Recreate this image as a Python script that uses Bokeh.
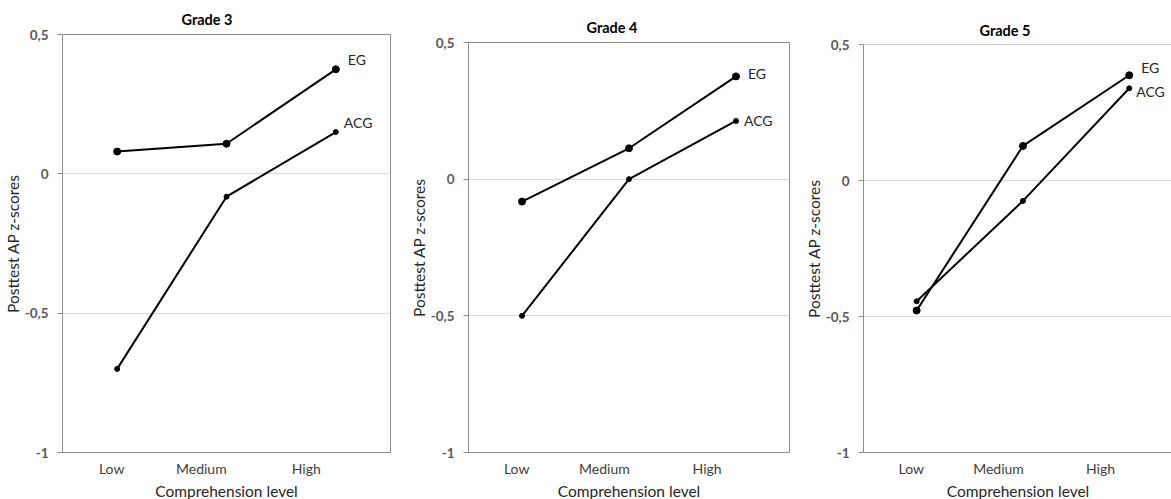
import numpy as np
from bokeh.plotting import figure
from bokeh.layouts import row, column
from bokeh.models import Range1d, FixedTicker, Span
from bokeh.embed import file_html
from bokeh.resources import INLINE

# ---- data ----
categories = ["Low", "Medium", "High"]
grades = ["Grade 3", "Grade 4", "Grade 5"]
eg_g3 = [0.08, 0.108, 0.375]
acg_g3 = [-0.70, -0.082, 0.15]
eg_g4 = [-0.082, 0.113, 0.376]
acg_g4 = [-0.50, 0.0, 0.213]
eg_g5 = [-0.478, 0.127, 0.387]
acg_g5 = [-0.444, -0.075, 0.339]
y_ticks = [-1, -0.5, 0, 0.5]
y_tick_labels = ["-1", "-0,5", "0", "0,5"]
series_names = ["EG", "ACG"]
x_title = "Comprehension level"
y_title = "Posttest AP z-scores"

FONT = "Lato"
xs = np.arange(len(categories)) + 0.5
label_ticks = [0.45, 1.27, 2.23]

panels = [
    dict(title=grades[0], eg=eg_g3, acg=acg_g3, fw=328, fh=418, bl=60, br=12, bt=34,
         xend=3.0, outline=True, toff=119, tst=14, eg_off=(12, -10), acg_off=(8, -10)),
    dict(title=grades[1], eg=eg_g4, acg=acg_g4, fw=321, fh=410, bl=66, br=3, bt=42,
         xend=3.0, outline=True, toff=118, tst=14, eg_off=(12, -3), acg_off=(8, 0)),
    dict(title=grades[2], eg=eg_g5, acg=acg_g5, fw=309, fh=408, bl=71, br=0, bt=44,
         xend=309 / 106.3, outline=False, toff=116, tst=12, eg_off=(12, -8), acg_off=(7, 3)),
]

cols = []
for pd_ in panels:
    p = figure(frame_width=pd_["fw"], frame_height=pd_["fh"], output_backend="svg", toolbar_location=None,
               x_range=Range1d(0, pd_["xend"]), y_range=Range1d(-1, 0.5),
               title=pd_["title"])
    p.min_border_left = pd_["bl"]
    p.min_border_right = pd_["br"]
    p.min_border_top = pd_["bt"]
    p.min_border_bottom = 10
    p.title.text_font = FONT
    p.title.text_font_size = "14.5px"
    p.title.text_font_style = "bold"
    p.title.text_color = "#000000"
    p.title.align = "left"
    p.title.offset = pd_["toff"]
    p.title.standoff = pd_["tst"]

    if pd_["outline"]:
        p.outline_line_color = "#8c8c8c"
        p.outline_line_width = 1
    else:
        p.outline_line_color = None
        p.add_layout(Span(location=y_ticks[-1], dimension="width", line_color="#8c8c8c", line_width=1))

    # x axis
    p.xaxis.ticker = FixedTicker(ticks=label_ticks)
    p.xaxis.major_label_overrides = {t: c for t, c in zip(label_ticks, categories)}
    p.xaxis.major_tick_out = 0
    p.xaxis.major_tick_in = 0
    p.xaxis.major_tick_line_color = None
    p.xaxis.minor_tick_line_color = None
    p.xaxis.axis_line_color = "#8c8c8c"
    p.xaxis.major_label_text_font = FONT
    p.xaxis.major_label_text_font_size = "14px"
    p.xaxis.major_label_text_color = "#404040"
    p.xaxis.major_label_standoff = 7
    p.xaxis.axis_label = x_title
    p.xaxis.axis_label_text_font = FONT
    p.xaxis.axis_label_text_font_size = "15.5px"
    p.xaxis.axis_label_text_font_style = "normal"
    p.xaxis.axis_label_text_color = "#262626"
    p.xaxis.axis_label_standoff = 2

    # y axis
    p.yaxis.ticker = FixedTicker(ticks=y_ticks)
    p.yaxis.major_label_overrides = {t: l for t, l in zip(y_ticks, y_tick_labels)}
    p.yaxis.major_tick_out = 5
    p.yaxis.major_tick_in = 0
    p.yaxis.major_tick_line_color = "#8c8c8c"
    p.yaxis.minor_tick_line_color = None
    p.yaxis.axis_line_color = "#8c8c8c"
    p.yaxis.major_label_text_font = FONT
    p.yaxis.major_label_text_font_size = "13.5px"
    p.yaxis.major_label_text_font_style = "bold"
    p.yaxis.major_label_text_color = "#595959"
    p.yaxis.major_label_standoff = 9
    p.yaxis.axis_label = y_title
    p.yaxis.axis_label_text_font = FONT
    p.yaxis.axis_label_text_font_size = "15.5px"
    p.yaxis.axis_label_text_font_style = "normal"
    p.yaxis.axis_label_text_color = "#262626"
    p.yaxis.axis_label_standoff = 0

    p.xgrid.grid_line_color = None
    p.ygrid.ticker = FixedTicker(ticks=y_ticks)
    p.ygrid.grid_line_color = "#d9d9d9"
    p.ygrid.grid_line_width = 1

    p.line(xs, pd_["eg"], line_color="black", line_width=2)
    p.scatter(xs, pd_["eg"], size=7, color="black")
    p.line(xs, pd_["acg"], line_color="black", line_width=2)
    p.scatter(xs, pd_["acg"], size=5, color="black")

    p.text(x=[xs[-1]], y=[pd_["eg"][-1]], text=[series_names[0]],
           x_offset=pd_["eg_off"][0], y_offset=pd_["eg_off"][1],
           text_font_size="14px", text_color="#262626", text_baseline="middle", text_align="left",
           text_font={"value": FONT})
    p.text(x=[xs[-1]], y=[pd_["acg"][-1]], text=[series_names[1]],
           x_offset=pd_["acg_off"][0], y_offset=pd_["acg_off"][1],
           text_font_size="14px", text_color="#262626", text_baseline="middle", text_align="left",
           text_font={"value": FONT})
    cols.append(column(p))

layout = row(*cols)
open("out.html", "w").write(file_html(layout, INLINE))
